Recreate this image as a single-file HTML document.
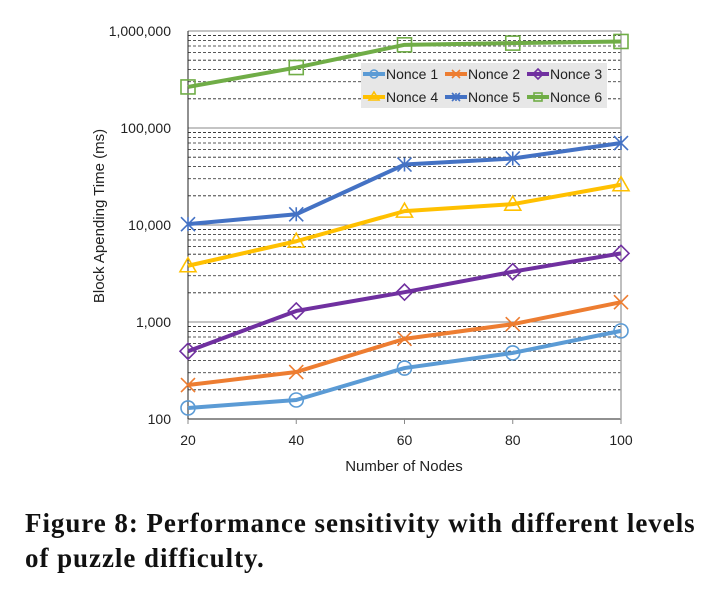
<!DOCTYPE html>
<html><head><meta charset="utf-8">
<style>
body{margin:0;background:#fff;width:722px;height:594px;overflow:hidden;}
svg{position:absolute;left:0;top:0;}
.cap{position:absolute;left:25px;top:506px;font-family:"Liberation Serif",serif;font-weight:bold;font-size:27px;letter-spacing:0.95px;line-height:35px;color:#111;white-space:nowrap;}
</style></head>
<body>
<svg id="chart" width="722" height="500" font-family="Liberation Sans, sans-serif"></svg>
<div class="cap">Figure 8: Performance sensitivity with different levels<br>of puzzle difficulty.</div>
<script>
const categories=[20,40,60,80,100];
const nonce1=[130,157,335,480,810];
const nonce2=[224,305,670,950,1600];
const nonce3=[500,1300,2030,3300,5100];
const nonce4=[3800,6800,13900,16400,26000];
const nonce5=[10200,12900,42000,48500,70000];
const nonce6=[265000,420000,720000,750000,780000];
const yTicks=[100,1000,10000,100000,1000000];
const yTickLabels=["100","1,000","10,000","100,000","1,000,000"];
const seriesNames=["Nonce 1","Nonce 2","Nonce 3","Nonce 4","Nonce 5","Nonce 6"];

const NS="http://www.w3.org/2000/svg";
const svg=document.getElementById('chart');
const X0=188,X1=621,Y0=419,DEC=97;
const xs=v=>X0+(v-20)/80*(X1-X0);
const ys=v=>Y0-(Math.log10(v)-2)*DEC;
function mk(t,a,p){const e=document.createElementNS(NS,t);for(const k in a)e.setAttribute(k,a[k]);(p||svg).appendChild(e);return e;}
const colors=["#5B9BD5","#ED7D31","#7030A0","#FFC000","#4472C4","#70AD47"];
const markers=["circle","x","diamond","triangle","star","square"];
for(let d=2;d<6;d++){for(let m=2;m<10;m++){const y=ys(m*Math.pow(10,d));
const l=mk('line',{x1:X0,x2:X1,y1:y,y2:y,stroke:'#222','stroke-width':0.8,'stroke-dasharray':'3,2'});

}}
yTicks.forEach((v,i)=>{const y=ys(v);
const l=mk('line',{x1:X0,x2:X1,y1:y,y2:y,stroke:i==0?'#222':'#888','stroke-width':1});


const t=mk('text',{x:171,y:y+5,'text-anchor':'end','font-size':14,fill:'#222'});t.textContent=yTickLabels[i];

});
mk('line',{x1:X0,x2:X0,y1:ys(1e6),y2:Y0+4,stroke:'#222','stroke-width':1});
mk('line',{x1:X1,x2:X1,y1:ys(1e6),y2:Y0,stroke:'#aaa','stroke-width':1.5});
categories.forEach(c=>{const x=xs(c);
mk('line',{x1:x,x2:x,y1:Y0,y2:Y0+5,stroke:'#888'});
const t=mk('text',{x:x,y:445,'text-anchor':'middle','font-size':14,fill:'#222'});t.textContent=c;

});
const xt=mk('text',{x:404,y:471,'text-anchor':'middle','font-size':15,fill:'#222'});xt.textContent="Number of Nodes";


const yt=mk('text',{x:0,y:0,'text-anchor':'middle','font-size':15,fill:'#222',transform:'translate(104,216) rotate(-90)'});yt.textContent="Block Apending Time (ms)";


function marker(type,x,y,c,g,s){s=s||7;
const a={fill:'none',stroke:c,'stroke-width':1.6};
if(type=='circle')mk('circle',Object.assign({cx:x,cy:y,r:s},a),g);
else if(type=='square')mk('rect',Object.assign({x:x-s,y:y-s,width:2*s,height:2*s},a),g);
else if(type=='diamond')mk('polygon',Object.assign({points:`${x},${y-s-1} ${x+s+1},${y} ${x},${y+s+1} ${x-s-1},${y}`},a),g);
else if(type=='triangle')mk('polygon',Object.assign({points:`${x},${y-s-1} ${x+s+1},${y+s-1} ${x-s-1},${y+s-1}`},a),g);
else if(type=='x'){mk('path',Object.assign({d:`M${x-s} ${y-s}L${x+s} ${y+s}M${x-s} ${y+s}L${x+s} ${y-s}`},a),g);}
else if(type=='star'){mk('path',Object.assign({d:`M${x-s} ${y-s}L${x+s} ${y+s}M${x-s} ${y+s}L${x+s} ${y-s}M${x} ${y-s}L${x} ${y+s}`},a),g);}}
const all=[nonce1,nonce2,nonce3,nonce4,nonce5,nonce6];
all.forEach((vals,si)=>{const g=mk('g',{});


const pts=vals.map((v,i)=>xs(categories[i])+','+ys(v)).join(' ');
mk('polyline',{points:pts,fill:'none',stroke:colors[si],'stroke-width':4,'stroke-linejoin':'round'},g);
vals.forEach((v,i)=>marker(markers[si],xs(categories[i]),ys(v),colors[si],g));});
const lg=mk('g',{});


mk('rect',{x:361,y:63,width:246,height:45,fill:'#e7e7e7'},lg);
seriesNames.forEach((n,i)=>{const col=i%3,row=Math.floor(i/3);const x=363+col*82,y=74+row*23;
const e=mk('g',{},lg);


mk('line',{x1:x,x2:x+22,y1:y,y2:y,stroke:colors[i],'stroke-width':4},e);
marker(markers[i],x+11,y,colors[i],e,4);
const t=mk('text',{x:x+23,y:y+5,'font-size':14,fill:'#222'},e);t.textContent=n;});
</script>
</body></html>
